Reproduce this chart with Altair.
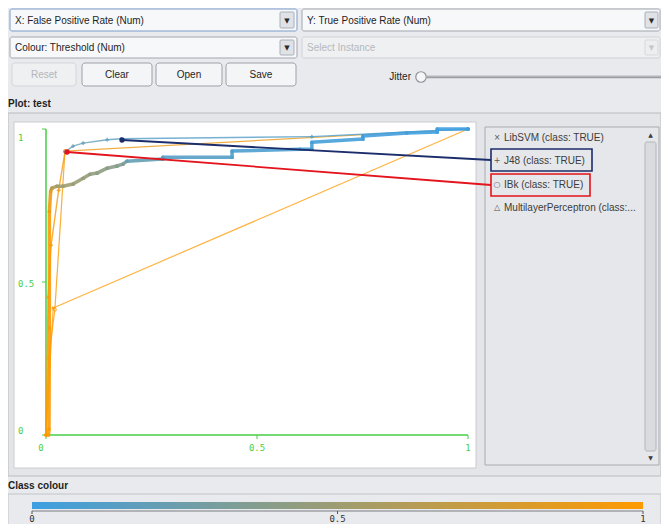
import altair as alt
import pandas as pd

# ---------------- values ----------------
# ROC curves: False Positive Rate, True Positive Rate, Threshold
libsvm_fpr = [0.0, 0.017, 1.0]
libsvm_tpr = [0.0, 0.415, 1.0]
libsvm_thr = [1.0, 1.0, 0.0]

j48_fpr = [0.0, 0.005, 0.012, 0.030, 0.045, 0.064, 0.088, 0.145, 0.178, 0.630, 1.0]
j48_tpr = [0.0, 0.45, 0.62, 0.80, 0.925, 0.944, 0.954, 0.965, 0.968, 0.975, 1.0]
j48_thr = [1.0, 0.99, 0.97, 0.93, 0.25, 0.20, 0.18, 0.15, 0.12, 0.08, 0.0]

ibk_fpr = [0.0, 0.006, 0.021, 0.045, 1.0]
ibk_tpr = [0.0, 0.25, 0.41, 0.928, 1.0]
ibk_thr = [1.0, 1.0, 0.98, 0.90, 0.0]

mlp_fpr = [0.006, 0.007, 0.008, 0.008, 0.011, 0.014, 0.026, 0.040, 0.064, 0.088, 0.104,
           0.121, 0.145, 0.168, 0.182, 0.192, 0.277, 0.277, 0.441, 0.441, 0.602, 0.630,
           0.630, 0.751, 0.751, 0.855, 0.927, 0.927, 1.0]
mlp_tpr = [0.0, 0.02, 0.35, 0.731, 0.797, 0.807, 0.813, 0.813, 0.820, 0.839, 0.852,
           0.856, 0.872, 0.879, 0.885, 0.895, 0.902, 0.908, 0.908, 0.928, 0.934, 0.934,
           0.957, 0.967, 0.977, 0.987, 0.990, 1.0, 1.0]
mlp_thr = [1.0, 0.99, 0.97, 0.93, 0.85, 0.60, 0.52, 0.50, 0.48, 0.46, 0.44,
           0.42, 0.40, 0.37, 0.33, 0.20, 0.15, 0.12, 0.10, 0.08, 0.06, 0.05,
           0.04, 0.035, 0.03, 0.02, 0.01, 0.005, 0.0]

tick_values = [0.0, 0.5, 1.0]
tick_labels = ["0", "0.5", "1"]

legend_symbols = ["×", "+", "○", "△"]
legend_names = ["LibSVM (class: TRUE)", "J48 (class: TRUE)", "IBk (class: TRUE)",
                "MultilayerPerceptron (class:..."]
dropdown_labels = ["X: False Positive Rate (Num)", "Y: True Positive Rate (Num)",
                   "Colour: Threshold (Num)", "Select Instance"]
button_labels = ["Reset", "Clear", "Open", "Save"]

# ---------------- layout (screen pixels) ----------------
W, H = 653, 516
OX = OY = 8
SX = alt.Scale(domain=[OX, OX + W], range=[0, W], nice=False, zero=False)
SY = alt.Scale(domain=[OY, OY + H], range=[0, H], nice=False, zero=False)
RX = alt.Scale(domain=[0, 1], range=[46 - OX, 468 - OX], nice=False, zero=False)
RY = alt.Scale(domain=[0, 1], range=[435 - OY, 129 - OY], nice=False, zero=False)
CBX = alt.Scale(domain=[0, 1], range=[32 - OX, 643 - OX], nice=False, zero=False)

GUI_FONT = "Liberation Sans"
MONO = "DejaVu Sans Mono"
GREEN = "#46cf46"
LOW, HIGH = "#3d9fe2", "#ff9a00"

THR_SCALE = alt.Scale(domain=[0, 1], range=[LOW, HIGH], interpolate="rgb")
COLOR = alt.Color("thr:Q", scale=THR_SCALE, legend=None)


def px_rect(rows, **mk):
    df = pd.DataFrame(rows, columns=["x0", "y0", "x1", "y1"])
    return alt.Chart(df).mark_rect(**mk).encode(
        x=alt.X("x0:Q", scale=SX, axis=None), x2="x1:Q",
        y=alt.Y("y0:Q", scale=SY, axis=None), y2="y1:Q")


def px_text(rows, **mk):
    df = pd.DataFrame(rows, columns=["x", "y", "t"])
    return alt.Chart(df).mark_text(**mk).encode(
        x=alt.X("x:Q", scale=SX, axis=None),
        y=alt.Y("y:Q", scale=SY, axis=None), text="t:N")


def px_line(rows, **mk):
    df = pd.DataFrame(rows, columns=["x0", "y0", "x1", "y1"])
    return alt.Chart(df).mark_rule(**mk).encode(
        x=alt.X("x0:Q", scale=SX, axis=None), x2="x1:Q",
        y=alt.Y("y0:Q", scale=SY, axis=None), y2="y1:Q")


def px_point(rows, **mk):
    df = pd.DataFrame(rows, columns=["x", "y"])
    return alt.Chart(df).mark_point(**mk).encode(
        x=alt.X("x:Q", scale=SX, axis=None), y=alt.Y("y:Q", scale=SY, axis=None))


def roc_rule(fpr, tpr, thr, **mk):
    df = pd.DataFrame({"x": fpr[:-1], "y": tpr[:-1], "x2": fpr[1:], "y2": tpr[1:], "thr": thr[:-1]})
    return alt.Chart(df).mark_rule(**mk).encode(
        x=alt.X("x:Q", scale=RX, axis=None), x2="x2:Q",
        y=alt.Y("y:Q", scale=RY, axis=None), y2="y2:Q", color=COLOR)


def roc_points(fpr, tpr, thr, **mk):
    df = pd.DataFrame({"x": fpr, "y": tpr, "thr": thr})
    return alt.Chart(df).mark_point(**mk).encode(
        x=alt.X("x:Q", scale=RX, axis=None),
        y=alt.Y("y:Q", scale=RY, axis=None), color=COLOR)


layers = []

# ---- top control rows ----
dd_boxes = [(10, 9, 297, 31), (302, 9, 660, 31), (10, 37, 297, 58), (302, 37, 660, 58)]
dd_arrows = [(280, 12, 294, 28), (645, 12, 658, 28), (280, 40, 294, 55), (645, 40, 658, 55)]
layers.append(px_rect([dd_boxes[1], dd_boxes[2]], fill="#f7f8fa", stroke="#a2a7ae", strokeWidth=1, cornerRadius=2))
layers.append(px_rect([dd_boxes[0]], fill="#f7f8fa", stroke="#7d9dcc", strokeWidth=1, cornerRadius=2))
layers.append(px_rect([dd_boxes[3]], fill="#eef0f2", stroke="#cfd2d6", strokeWidth=1, cornerRadius=2))
layers.append(px_rect(dd_arrows[:3], fill="#dfe2e6", stroke="#aab0b7", strokeWidth=1, cornerRadius=1))
layers.append(px_rect([dd_arrows[3]], fill="#eceef0", stroke="#d6d8db", strokeWidth=1, cornerRadius=1))
layers.append(px_text([(287, 20.5, "▼"), (651.5, 20.5, "▼"), (287, 48, "▼")],
                      font="DejaVu Sans", fontSize=7, color="#2b2b2b", align="center", baseline="middle"))
layers.append(px_text([(651.5, 48, "▼")], font="DejaVu Sans", fontSize=7, color="#c4c7cb",
                      align="center", baseline="middle"))
layers.append(px_text([(15, 20.5, dropdown_labels[0]), (307, 20.5, dropdown_labels[1]),
                       (15, 48, dropdown_labels[2])],
                      font=GUI_FONT, fontSize=10, color="#1e1e1e", align="left", baseline="middle"))
layers.append(px_text([(307, 48, dropdown_labels[3])],
                      font=GUI_FONT, fontSize=10, color="#b6b9bd", align="left", baseline="middle"))

btn_boxes = [(12, 63, 76, 86), (82, 63, 152, 86), (156, 63, 222, 86), (226, 63, 296, 86)]
layers.append(px_rect([btn_boxes[0]], fill="#eef0f2", stroke="#d3d6d9", strokeWidth=1, cornerRadius=3))
layers.append(px_rect(btn_boxes[1:], fill="#f4f5f7", stroke="#9ca1a8", strokeWidth=1, cornerRadius=3))
btn_centers = [((b[0] + b[2]) / 2, (b[1] + b[3]) / 2) for b in btn_boxes]
layers.append(px_text([(btn_centers[0][0], btn_centers[0][1], button_labels[0])],
                      font=GUI_FONT, fontSize=10, color="#b3b6ba", align="center", baseline="middle"))
layers.append(px_text([(c[0], c[1], t) for c, t in zip(btn_centers[1:], button_labels[1:])],
                      font=GUI_FONT, fontSize=10, color="#1e1e1e", align="center", baseline="middle"))

# jitter slider
layers.append(px_text([(411, 77, "Jitter")], font=GUI_FONT, fontSize=10, color="#1e1e1e",
                      align="right", baseline="middle"))
layers.append(px_line([(427, 77, 661, 77)], color="#9a9ea4", strokeWidth=2.5))
layers.append(px_line([(427, 76, 661, 76)], color="#c9ccd0", strokeWidth=1))
layers.append(px_point([(421, 77)], shape="circle", size=110, filled=True, fill="#f4f6f8",
                       stroke="#8d939a", strokeWidth=1.2, opacity=1))

# ---- plot panel ----
layers.append(px_text([(8, 104, "Plot: test")], font=GUI_FONT, fontSize=10, fontWeight="bold",
                      color="#1e1e1e", align="left", baseline="middle"))
layers.append(px_rect([(8, 113, 661, 476)], fill="#e4e5e8", stroke="#babcc0", strokeWidth=1))
layers.append(px_rect([(14, 122, 476, 468)], fill="#ffffff", stroke="#cbccd0", strokeWidth=1))

# green Weka axes drawn through the ROC scales
axis_df = pd.DataFrame({"x": [0.0, 0.0], "y": [0.0, 0.0], "x2": [0.0, 1.0], "y2": [1.0, 0.0]})
layers.append(alt.Chart(axis_df).mark_rule(color=GREEN, strokeWidth=1.5).encode(
    x=alt.X("x:Q", scale=RX, axis=None), x2="x2:Q",
    y=alt.Y("y:Q", scale=RY, axis=None), y2="y2:Q"))
tick_df = pd.DataFrame({"v": tick_values, "zero": [0.0] * 3, "lab": tick_labels})
layers.append(alt.Chart(tick_df).mark_rule(color=GREEN, strokeWidth=1, y2Offset=4).encode(
    x=alt.X("v:Q", scale=RX, axis=None), x2="v:Q",
    y=alt.Y("zero:Q", scale=RY, axis=None), y2="zero:Q"))
layers.append(alt.Chart(tick_df).mark_rule(color=GREEN, strokeWidth=1, x2Offset=-4).encode(
    x=alt.X("zero:Q", scale=RX, axis=None), x2="zero:Q",
    y=alt.Y("v:Q", scale=RY, axis=None), y2="v:Q"))
for v, lab, dx in zip(tick_values, tick_labels, [-5, 0, 0]):
    one = pd.DataFrame({"v": [v], "zero": [0.0], "lab": [lab]})
    layers.append(alt.Chart(one).mark_text(font=MONO, fontSize=9, color=GREEN, dx=dx, dy=13,
                                           align="center", baseline="middle").encode(
        x=alt.X("v:Q", scale=RX, axis=None), y=alt.Y("zero:Q", scale=RY, axis=None), text="lab:N"))
for v, lab, dy in zip(tick_values, tick_labels, [-4, 1.5, 9]):
    one = pd.DataFrame({"v": [v], "zero": [0.0], "lab": [lab]})
    layers.append(alt.Chart(one).mark_text(font=MONO, fontSize=9, color=GREEN, dx=-28, dy=dy,
                                           align="left", baseline="middle").encode(
        x=alt.X("zero:Q", scale=RX, axis=None), y=alt.Y("v:Q", scale=RY, axis=None), text="lab:N"))

# ROC curves
layers.append(roc_rule(libsvm_fpr, libsvm_tpr, libsvm_thr, strokeWidth=1.2, opacity=0.75))
layers.append(roc_points(libsvm_fpr, libsvm_tpr, libsvm_thr, shape="cross", angle=45, size=14,
                         filled=True, opacity=0.8))
layers.append(roc_rule(ibk_fpr, ibk_tpr, ibk_thr, strokeWidth=1.2, opacity=0.8))
layers.append(roc_points(ibk_fpr, ibk_tpr, ibk_thr, shape="circle", size=10, strokeWidth=1, opacity=0.8))
layers.append(roc_rule(j48_fpr, j48_tpr, j48_thr, strokeWidth=1.4, opacity=0.8))
layers.append(roc_points(j48_fpr, j48_tpr, j48_thr, shape="cross", size=14, filled=True, opacity=0.8))
layers.append(roc_rule(mlp_fpr, mlp_tpr, mlp_thr, strokeWidth=3.5, strokeCap="round", opacity=0.9))
layers.append(roc_points(mlp_fpr, mlp_tpr, mlp_thr, shape="triangle-up", size=14, filled=True, opacity=0.9))

# ---- legend panel ----
layers.append(px_rect([(485, 127, 659, 465)], fill="#e6e7ea", stroke="#a8abb0", strokeWidth=1))
layers.append(px_rect([(645, 142, 656, 451)], fill="#d9dbde", stroke="#b3b6bb", strokeWidth=1, cornerRadius=2))
layers.append(px_text([(650.5, 135, "▲"), (650.5, 458, "▼")], font="DejaVu Sans", fontSize=6,
                      color="#3a3a3a", align="center", baseline="middle"))
leg_y = [138, 161, 185, 208]
layers.append(px_text([(497, y, s) for y, s in zip(leg_y, legend_symbols)], font="DejaVu Sans",
                      fontSize=8, color="#555555", align="center", baseline="middle"))
layers.append(px_text([(504, y, n) for y, n in zip(leg_y, legend_names)], font=GUI_FONT,
                      fontSize=10, color="#3c3c3c", align="left", baseline="middle"))

# annotation boxes and arrows
layers.append(px_rect([(491, 149, 592, 171)], filled=False, stroke="#1b2d6b", strokeWidth=1.6))
layers.append(px_rect([(491, 174, 590, 196)], filled=False, stroke="#e3141c", strokeWidth=1.6))
layers.append(px_line([(122, 140, 491, 160)], color="#1b2d6b", strokeWidth=1.8))
layers.append(px_line([(67, 152, 491, 185)], color="#e3141c", strokeWidth=1.8))
layers.append(px_point([(122, 140)], shape="circle", size=28, filled=True, color="#1b2d6b", opacity=1))
layers.append(px_point([(67, 152)], shape="circle", size=28, filled=True, color="#e3141c", opacity=1))

# ---- class colour panel: threshold colour bar on its own 0..1 scale ----
layers.append(px_text([(8, 486, "Class colour")], font=GUI_FONT, fontSize=10, fontWeight="bold",
                      color="#1e1e1e", align="left", baseline="middle"))
layers.append(px_rect([(8, 494, 661, 530)], fill="#e9eaed", stroke="#c2c4c8", strokeWidth=1))
cb_bar = pd.DataFrame({"t0": [tick_values[0]], "t1": [tick_values[-1]], "y0": [502.0], "y1": [509.0]})
layers.append(alt.Chart(cb_bar).mark_rect(
    fill=alt.Gradient(gradient="linear", x1=0, x2=1, y1=0, y2=0,
                      stops=[alt.GradientStop(color=LOW, offset=0),
                             alt.GradientStop(color=HIGH, offset=1)])).encode(
    x=alt.X("t0:Q", scale=CBX, axis=None), x2="t1:Q",
    y=alt.Y("y0:Q", scale=SY, axis=None), y2="y1:Q"))
cb_line = pd.DataFrame({"t0": [0.0], "t1": [1.0], "y": [511.0]})
layers.append(alt.Chart(cb_line).mark_rule(color="#7a7d82", strokeWidth=1).encode(
    x=alt.X("t0:Q", scale=CBX, axis=None), x2="t1:Q", y=alt.Y("y:Q", scale=SY, axis=None)))
cb_ticks = pd.DataFrame({"t": tick_values, "y0": [511.0] * 3, "y1": [514.0] * 3, "lab": tick_labels})
layers.append(alt.Chart(cb_ticks).mark_rule(color="#555555", strokeWidth=1).encode(
    x=alt.X("t:Q", scale=CBX, axis=None), y=alt.Y("y0:Q", scale=SY, axis=None), y2="y1:Q"))
layers.append(alt.Chart(cb_ticks).mark_text(font=MONO, fontSize=9, color="#333333", dy=5,
                                            align="center", baseline="middle").encode(
    x=alt.X("t:Q", scale=CBX, axis=None), y=alt.Y("y1:Q", scale=SY, axis=None), text="lab:N"))

chart = alt.layer(*layers).resolve_scale(x="independent", y="independent").properties(
    width=W, height=H, padding=0, autosize=alt.AutoSizeParams(type="none"),
    background="#e9eaed",
).configure_view(stroke=None)

chart.save("out.html", embed_options={"renderer": "svg", "actions": False})
